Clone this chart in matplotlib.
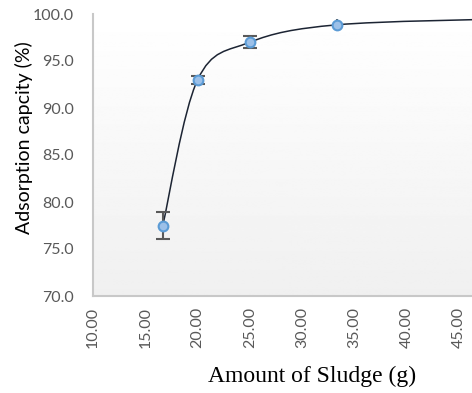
import numpy as np
import matplotlib.pyplot as plt
from matplotlib.path import Path
from matplotlib.patches import PathPatch

# sludge dose vs adsorption capacity
sludge   = [16.67, 20.00, 25.00, 33.33]
capacity = [77.5, 93.0, 97.0, 98.85]
err      = [1.45, 0.45, 0.65, 0.60]
caps     = [5, 5, 5, 0]

# smoothed line runs on past the last measured point
line_x = sludge + [50.0]
line_y = capacity + [99.5]

xticks = [10, 15, 20, 25, 30, 35, 40, 45]
yticks = [70, 75, 80, 85, 90, 95, 100]

fig = plt.figure(figsize=(4.72, 3.93), dpi=100)
ax = fig.add_axes([93/472, 1 - 296/393, (472 - 93)/472, (296 - 14)/393])
ax.set_xlim(10, 10 + (472 - 93) / 10.46)
ax.set_ylim(70, 100)

# soft vertical gradient behind the plot
grad = np.linspace(1.0, 0.94, 256).reshape(-1, 1)
ax.imshow(grad, extent=[0, 1, 0, 1], transform=ax.transAxes, aspect='auto',
          cmap='gray', vmin=0, vmax=1, zorder=0)

# smoothed curve (bezier segments through the points)
pts = np.column_stack([line_x, line_y])
ext = np.vstack([pts[0], pts, pts[-1]])
verts = [tuple(pts[0])]
codes = [Path.MOVETO]
for i in range(len(pts) - 1):
    p0, p1, p2, p3 = ext[i], ext[i + 1], ext[i + 2], ext[i + 3]
    c1 = p1 + (p2 - p0) / 6
    c2 = p2 - (p3 - p1) / 6
    verts += [tuple(c1), tuple(c2), tuple(p2)]
    codes += [Path.CURVE4] * 3
ax.add_patch(PathPatch(Path(verts, codes), facecolor='none', edgecolor='#1c2433',
                       lw=1.1, zorder=2))

for x, y, e, c in zip(sludge, capacity, err, caps):
    ax.errorbar(x, y, yerr=e, fmt='none', ecolor='#595959', elinewidth=1.5,
                capsize=c, capthick=1.5, zorder=3)
ax.plot(sludge, capacity, 'o', ms=7, mfc='#9cc0e8', mec='#5b9bd5', mew=1.5,
        ls='none', zorder=4)

ax.set_xticks(xticks)
ax.set_xticklabels([f'{v:.2f}' for v in xticks], rotation=90)
ax.set_yticks(yticks)
ax.set_yticklabels([f'{v:.1f}' for v in yticks])
ax.tick_params(length=0, labelsize=11.5, labelcolor='#595959')
ax.tick_params(axis='x', pad=8)
ax.tick_params(axis='y', pad=14)
for lab in ax.get_xticklabels() + ax.get_yticklabels():
    lab.set_family('Lato')

for s in ['top', 'right']:
    ax.spines[s].set_visible(False)
for s in ['left', 'bottom']:
    ax.spines[s].set_color('#c8c8c8')
    ax.spines[s].set_linewidth(1.5)

fig.text(24/472, 1 - 138/393, 'Adsorption capcity (%)', fontsize=14,
         family='Lato', rotation=90, ha='center', va='center')
fig.text(312/472, 1 - 376/393, 'Amount of Sludge (g)', fontsize=17,
         family='Liberation Serif', ha='center', va='center')

fig.savefig('out.png', dpi=100)
